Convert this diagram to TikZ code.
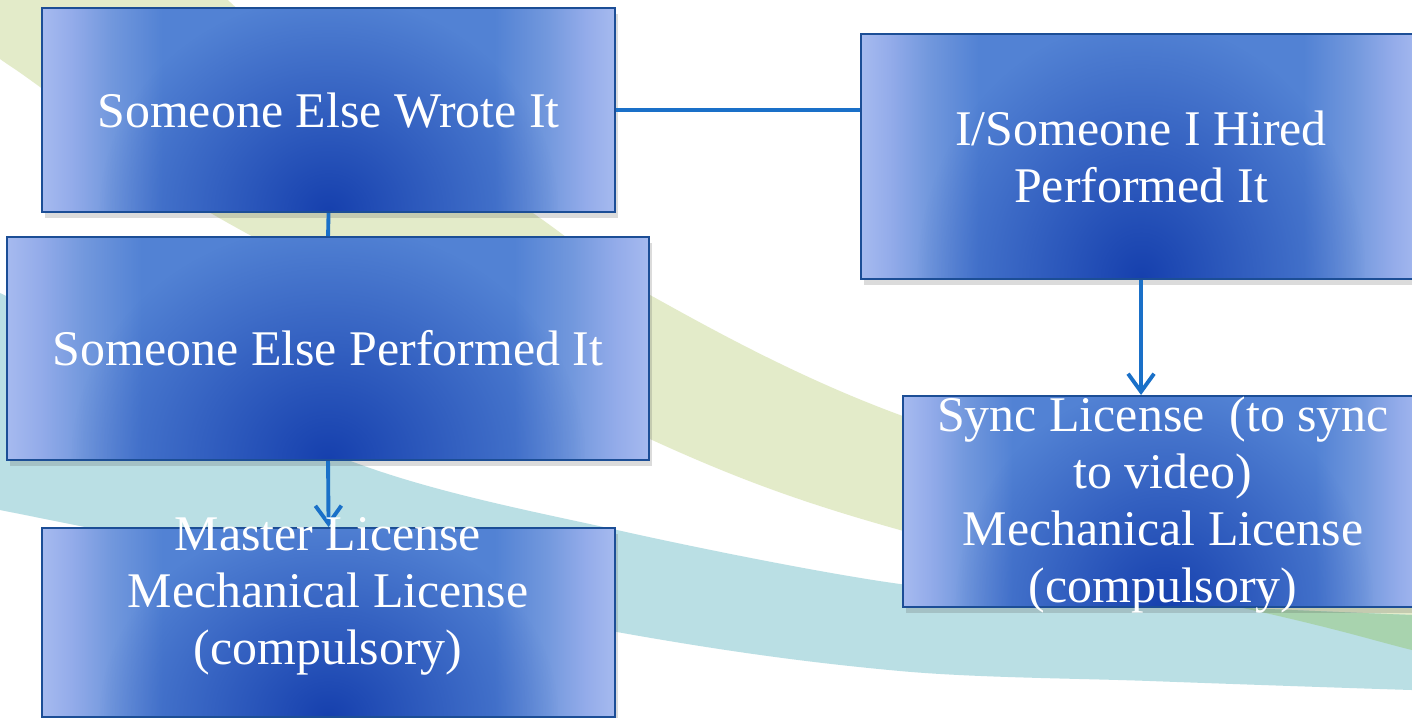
\documentclass[tikz,border=0pt]{standalone}
\usepackage{fontspec}
\setmainfont{Liberation Serif}
\usepackage{tikz}
\usetikzlibrary{arrows.meta,calc,fadings,shadows,positioning}

\definecolor{hell}{RGB}{166,186,239}
\definecolor{sehrhell}{RGB}{148,172,234}
\definecolor{hellmittel}{RGB}{114,152,221}
\definecolor{mittel}{RGB}{82,130,212}
\definecolor{dunkel}{RGB}{22,64,174}
\definecolor{rand}{RGB}{28,78,150}
\definecolor{linie}{RGB}{26,112,200}
\definecolor{gruenband}{RGB}{227,235,201}
\definecolor{tuerkisband}{RGB}{186,223,228}
\definecolor{mischband}{RGB}{168,211,174}

%Seitenraender hell: Pfad-Box entspricht 25bp bis 75bp
\pgfdeclarehorizontalshading{seiten}{100bp}{color(0bp)=(hell); color(25bp)=(hell); color(27.5bp)=(sehrhell); color(31bp)=(hellmittel); color(35.5bp)=(mittel); color(64.5bp)=(mittel); color(69bp)=(hellmittel); color(72.5bp)=(sehrhell); color(75bp)=(hell); color(100bp)=(hell)}
\tikzfading[name=glut, inner color=transparent!0, outer color=transparent!100]

\tikzset{
  kasten/.style={draw=rand, line width=0.6pt, anchor=north west, fill=mittel, inner sep=0pt,
    drop shadow={shadow xshift=0.3mm, shadow yshift=-0.6mm, opacity=0.2, fill=black!70},
    path picture={
      \shade[shading=seiten] (path picture bounding box.south west) rectangle (path picture bounding box.north east);
      %dunkler Fleck unten in der Mitte
      \fill[dunkel, path fading=glut]
        let \p1=(path picture bounding box.south west), \p2=(path picture bounding box.north east)
        in ({\x1+0.1*(\x2-\x1)},{\y1-1.05*(\y2-\y1)}) rectangle ({\x2-0.1*(\x2-\x1)},{\y1+1.05*(\y2-\y1)});
    }},
  beschriftung/.style={text=white, align=center, font=\fontsize{14.2}{16.2}\selectfont},
  verbinder/.style={draw=linie, line width=1.1pt},
  pfeil/.style={verbinder, -{Straight Barb[length=1.8mm,width=2.6mm]}}
}

\begin{document}
\begin{tikzpicture}[x=0.1mm, y=-0.1mm]
%Ein Pixel der Vorlage = 0.1mm, y zeigt nach unten
\path[use as bounding box] (0,0) rectangle (1412,717);
\clip (0,0) rectangle (1412,717);
\fill[white] (0,0) rectangle (1412,717);
%Hintergrund: gruenes und tuerkises Band
\fill[gruenband] plot[smooth] coordinates {(-20,-260) (250,20) (530,211) (650,295) (900,415) (1412,575) (1520,600)}
  -- plot[smooth] coordinates {(1520,675) (1412,650) (1283,617) (900,530) (650,439) (214,215) (40,87) (0,59) (-40,30)} -- cycle;
\fill[tuerkisband] plot[smooth] coordinates {(-40,275) (0,293) (348,460) (617,530) (900,584) (1150,603) (1412,615) (1520,618)}
  -- plot[smooth] coordinates {(1520,692) (1412,690) (1150,681) (900,671) (617,632) (0,510) (-40,502)} -- cycle;
\begin{scope}
\clip plot[smooth] coordinates {(-40,275) (0,293) (348,460) (617,530) (900,584) (1150,603) (1412,615) (1520,618)}
  -- plot[smooth] coordinates {(1520,692) (1412,690) (1150,681) (900,671) (617,632) (0,510) (-40,502)} -- cycle;
\fill[mischband] plot[smooth] coordinates {(-20,-260) (250,20) (530,211) (650,295) (900,415) (1412,575) (1520,600)}
  -- plot[smooth] coordinates {(1520,675) (1412,650) (1283,617) (900,530) (650,439) (214,215) (40,87) (0,59) (-40,30)} -- cycle;
\end{scope}
%Kaesten: Name/x/y/Breite/Hoehe (Breite und Hoehe in mm)
\foreach \name/\xpos/\ypos/\breite/\hoehe in {fremdgeschrieben/41/7/57.3/20.4, fremdgespielt/6/236/64.2/22.3, master/41/527/57.3/18.9, selbstgespielt/860/33/56/24.5, sync/902/395/52.2/21.1}{
  \node[kasten, minimum width=\breite mm, minimum height=\hoehe mm] (\name) at (\xpos,\ypos) {};
}
\draw[verbinder] (fremdgeschrieben.east) -- (fremdgeschrieben.east -| selbstgespielt.west);
\draw[verbinder] (fremdgeschrieben.south) -- (fremdgespielt.north);
\draw[pfeil] (fremdgespielt.south) -- (master.north);
\draw[pfeil] (selbstgespielt.south) -- (selbstgespielt.south |- sync.north);
%Texte, bei master und sync ragt der Text ueber den Kasten
\node[beschriftung] (txtgeschrieben) at (fremdgeschrieben) {Someone Else Wrote It};
\node[beschriftung] (txtgespielt) at (fremdgespielt) {Someone Else Performed It};
\node[beschriftung] (txtmaster) at (328,596) {Master License\\Mechanical License\\(compulsory)};
\node[beschriftung] (txtselbst) at (selbstgespielt) {I/Someone I Hired\\Performed It};
\node[beschriftung] (txtsync) at (1163,505) {Sync License\ \ (to sync\\to video)\\Mechanical License\\(compulsory)};
\end{tikzpicture}
\end{document}
